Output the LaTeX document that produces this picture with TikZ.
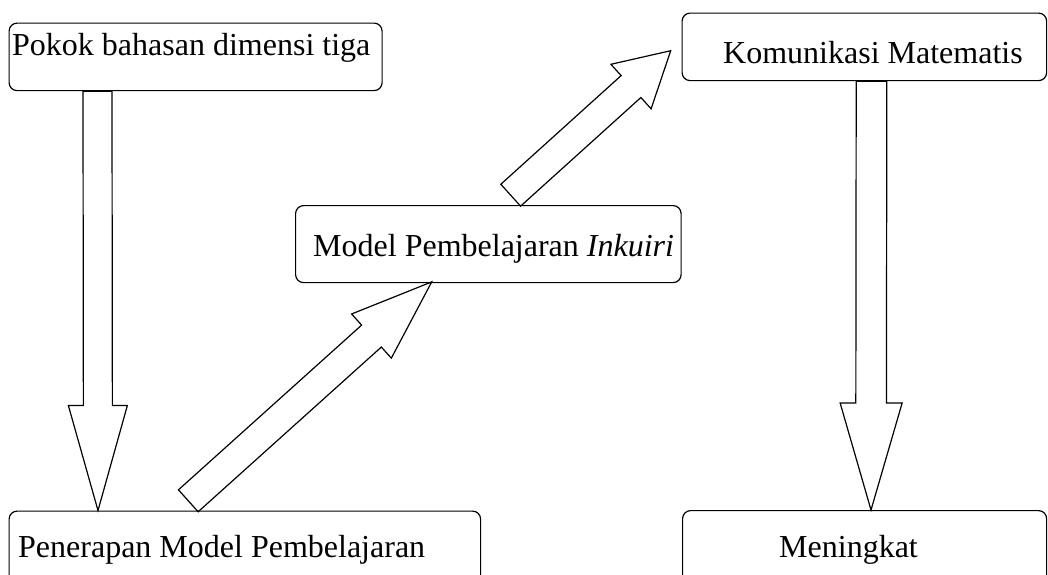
\documentclass[tikz,border=0pt]{standalone}
\usepackage{fontspec}
\setmainfont{Liberation Serif}
\usetikzlibrary{calc}
\tikzset{
  box/.style={draw, line width=1.2pt, rounded corners=8pt, inner sep=0pt, anchor=north west},
  lbl/.style={inner sep=0pt, anchor=base west, font=\fontsize{32}{38}\selectfont},
  blk/.style={draw, line width=1.2pt, line join=miter},
}
% #1 prefix, #2 tail, #3 tip, #4 shaft half width, #5 head half width, #6 head length
\newcommand\blockarr[6]{%
  \coordinate (#1h) at ($(#3)!#6!(#2)$);
  \draw[blk] ($(#2)!#4!90:(#3)$) -- ($(#1h)!#4!90:(#3)$) -- ($(#1h)!#5!90:(#3)$)
    -- (#3) -- ($(#1h)!#5!-90:(#3)$) -- ($(#1h)!#4!-90:(#3)$)
    -- ($(#2)!#4!-90:(#3)$) -- cycle;}
\begin{document}
\begin{tikzpicture}[x=1pt,y=-1pt]
\clip (0,0) rectangle (1048,574);
\fill[white] (0,0) rectangle (1048,574);
% boxes
\node[box, minimum width=373pt, minimum height=67.5pt] (b1) at (8.5,22.5) {};
\node[box, minimum width=471.5pt, minimum height=90pt] (b2) at (8.5,510.5) {};
\node[box, minimum width=385.5pt, minimum height=77pt] (b3) at (295,205) {};
\node[box, minimum width=364.5pt, minimum height=67.5pt] (b4) at (681.5,12.5) {};
\node[box, minimum width=364pt, minimum height=90pt] (b5) at (682,510) {};
% texts
\node[lbl] (t1) at (12,55) {Pokok bahasan dimensi tiga};
\node[lbl] (t2) at (18,557) {Penerapan Model Pembelajaran};
\node[lbl] (t3) at (313,256.7) {Model Pembelajaran \textit{Inkuiri}};
\node[lbl] (t4) at (723,63) {Komunikasi Matematis};
\node[lbl] (t5) at (779,557) {Meningkat};
% arrow end points
\coordinate (a1s) at ($(b1.south west)+(89,0)$);
\coordinate (a1e) at ($(b2.north west)+(89.5,0)$);
\coordinate (a2s) at ($(b2.north west)+(179.8,-9.7)$);
\coordinate (a2e) at ($(b3.south west)+(136.7,-1.3)$);
\coordinate (a3s) at ($(b3.north west)+(215.7,-9.8)$);
\coordinate (a3e) at ($(b4.north west)+(-10.8,38.2)$);
\coordinate (a4s) at ($(b4.south west)+(190,0)$);
\coordinate (a4e) at ($(b5.north west)+(189,0)$);
% block arrows
\blockarr{p}{a1s}{a1e}{14.5pt}{29.5pt}{105pt}
\blockarr{q}{a2s}{a2e}{14.75pt}{29.7pt}{81pt}
\blockarr{r}{a3s}{a3e}{14.75pt}{30pt}{53.5pt}
\blockarr{s}{a4s}{a4e}{15.3pt}{31pt}{107pt}
\end{tikzpicture}
\end{document}
